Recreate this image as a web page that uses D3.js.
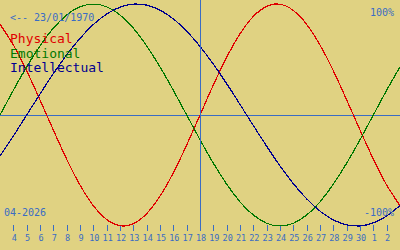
<!DOCTYPE html>
<html>
<head>
<meta charset="utf-8">
<script src="https://cdn.jsdelivr.net/npm/d3@7"></script>
<style>
  html, body { margin: 0; padding: 0; background: #e0d282; }
  svg { display: block; }
</style>
</head>
<body>
<div id="chart"></div>
<script>
// days shown: 3 April .. 3 May 2026, today = 18 April (offset 0)
var dayOffsets = [-15,-14,-13,-12,-11,-10,-9,-8,-7,-6,-5,-4,-3,-2,-1,0,1,2,3,4,5,6,7,8,9,10,11,12,13,14,15];
var dayLabels = [3,4,5,6,7,8,9,10,11,12,13,14,15,16,17,18,19,20,21,22,23,24,25,26,27,28,29,30,1,2,3];

// values in percent, read per day
var physical = [81.7,63.1,39.8,13.6,-13.6,-39.8,-63.1,-81.7,-94.2,-99.8,-97.9,-88.8,-73.1,-52.0,-27.0,0,
  27.0,52.0,73.1,88.8,97.9,99.8,94.2,81.7,63.1,39.8,13.6,-13.6,-39.8,-63.1,-81.7];
var emotional = [0,22.3,43.4,62.3,78.2,90.1,97.5,100,97.5,90.1,78.2,62.3,43.4,22.3,0,-22.3,
  -43.4,-62.3,-78.2,-90.1,-97.5,-100,-97.5,-90.1,-78.2,-62.3,-43.4,-22.3,0,22.3,43.4];
var intellectual = [-37.2,-18.9,0,18.9,37.2,54.1,69.0,81.5,91.0,97.2,99.9,99.0,94.5,86.6,75.6,61.8,
  45.8,28.2,9.5,-9.5,-28.2,-45.8,-61.8,-75.6,-86.6,-94.5,-99.0,-99.9,-97.2,-91.0,-81.5];

var seriesNames = ["Physical", "Emotional", "Intellectual"];
var seriesColors = ["#e00000", "#007800", "#000090"];
var birthText = "<-- 23/01/1970";
var monthText = "04-2026";

var width = 400, height = 250;
var fontFamily = "'DejaVu Sans Mono', 'Liberation Mono', monospace";
var blue = "#3a6cc4";

var svg = d3.select("#chart")
  .append("svg")
  .attr("width", width)
  .attr("height", height);

// hard-edged look for the curves, like a bitmap screen
var filter = svg.append("defs").append("filter")
  .attr("id", "pixel")
  .attr("filterUnits", "userSpaceOnUse")
  .attr("x", 0).attr("y", 0)
  .attr("width", width).attr("height", height);
filter.append("feComponentTransfer")
  .append("feFuncA")
  .attr("type", "discrete")
  .attr("tableValues", "0 1");

svg.append("rect")
  .attr("width", width)
  .attr("height", height)
  .attr("fill", "#e0d282");

var x = d3.scaleLinear().domain([-15, 15]).range([0, width]);
var y = d3.scaleLinear().domain([-100, 100]).range([226, 4]);

// zero line
svg.append("line")
  .attr("x1", 0).attr("x2", width)
  .attr("y1", Math.round(y(0)) + 0.5).attr("y2", Math.round(y(0)) + 0.5)
  .attr("stroke", blue)
  .attr("stroke-width", 1);

// day ticks (skip the two edge days)
var tickData = dayOffsets.map(function (d, i) {
  return { off: d, label: dayLabels[i] };
}).filter(function (d) { return d.off > -15 && d.off < 15; });

svg.selectAll("line.tick")
  .data(tickData)
  .enter()
  .append("line")
  .attr("class", "tick")
  .attr("x1", function (d) { return Math.round(x(d.off)) + 0.5; })
  .attr("x2", function (d) { return Math.round(x(d.off)) + 0.5; })
  .attr("y1", 225)
  .attr("y2", 231)
  .attr("stroke", blue);

svg.selectAll("text.tick")
  .data(tickData)
  .enter()
  .append("text")
  .attr("class", "tick")
  .attr("x", function (d) { return x(d.off) + 1; })
  .attr("y", 241)
  .attr("text-anchor", "middle")
  .attr("fill", blue)
  .style("font-family", fontFamily)
  .style("font-size", "8.5px")
  .text(function (d) { return d.label; });

// curves
var line = d3.line()
  .x(function (d, i) { return x(dayOffsets[i]); })
  .y(function (d) { return y(d); })
  .curve(d3.curveNatural);

var curves = svg.append("g").attr("filter", "url(#pixel)");

[physical, emotional, intellectual].forEach(function (s, i) {
  curves.append("path")
    .datum(s)
    .attr("d", line)
    .attr("fill", "none")
    .attr("stroke", seriesColors[i])
    .attr("stroke-width", 1.2);
});

svg.append("line")
  .attr("x1", Math.round(x(0)) + 0.5).attr("x2", Math.round(x(0)) + 0.5)
  .attr("y1", 0).attr("y2", 231)
  .attr("stroke", blue)
  .attr("stroke-width", 1);

// texts
svg.append("text")
  .attr("x", 10).attr("y", 21)
  .attr("fill", blue)
  .style("font-family", fontFamily)
  .style("font-size", "10px")
  .text(birthText);

svg.append("text")
  .attr("x", 394).attr("y", 16)
  .attr("text-anchor", "end")
  .attr("fill", blue)
  .style("font-family", fontFamily)
  .style("font-size", "10px")
  .text("100%");

svg.append("text")
  .attr("x", 4).attr("y", 216)
  .attr("fill", blue)
  .style("font-family", fontFamily)
  .style("font-size", "10px")
  .text(monthText);

svg.append("text")
  .attr("x", 394).attr("y", 216)
  .attr("text-anchor", "end")
  .attr("fill", blue)
  .style("font-family", fontFamily)
  .style("font-size", "10px")
  .text("-100%");

svg.selectAll("text.name")
  .data(seriesNames)
  .enter()
  .append("text")
  .attr("class", "name")
  .attr("x", 10)
  .attr("y", function (d, i) { return 43 + i * 14.5; })
  .attr("fill", function (d, i) { return seriesColors[i]; })
  .style("font-family", fontFamily)
  .style("font-size", "13px")
  .text(function (d) { return d; });
</script>
</body>
</html>
